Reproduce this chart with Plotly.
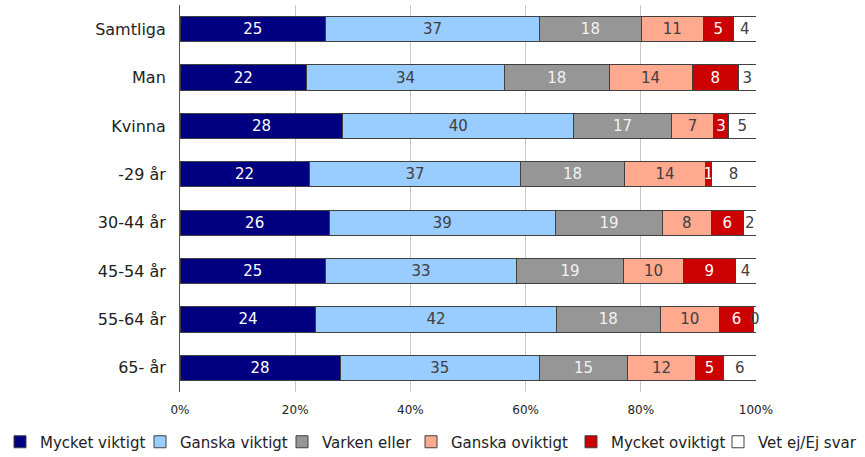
import plotly.graph_objects as go

categories = ["Samtliga", "Man", "Kvinna", "-29 år", "30-44 år", "45-54 år", "55-64 år", "65- år"]

series_names = ["Mycket viktigt", "Ganska viktigt", "Varken eller",
                "Ganska oviktigt", "Mycket oviktigt", "Vet ej/Ej svar"]

mycket_viktigt  = [25.3, 22.0, 28.3, 22.4, 25.9, 25.3, 23.6, 27.8]
ganska_viktigt  = [37.1, 34.3, 40.1, 36.8, 39.2, 33.1, 41.7, 34.6]
varken_eller    = [17.7, 18.2, 17.0, 17.9, 18.6, 18.6, 18.1, 15.3]
ganska_oviktigt = [10.7, 14.4, 7.3, 14.2, 8.4, 10.4, 10.2, 11.8]
mycket_oviktigt = [5.3, 8.1, 2.6, 0.9, 5.6, 9.0, 6.0, 4.9]
vet_ej          = [3.9, 3.0, 4.8, 7.8, 2.2, 3.6, 0.4, 5.6]

x_tick_vals = [0, 20, 40, 60, 80, 100]
x_tick_text = ["0%", "20%", "40%", "60%", "80%", "100%"]

series_values = [mycket_viktigt, ganska_viktigt, varken_eller,
                 ganska_oviktigt, mycket_oviktigt, vet_ej]
colors = ["#000080", "#99CCFF", "#969696", "#FFA98F", "#CC0000", "#FFFFFF"]
text_colors = ["#FFFFFF", "#404040", "#F2F2F2", "#404040", "#FFFFFF", "#404040"]

# legend entry left positions (pixels in the 865px wide figure)
legend_left_px = [0, 140, 282, 411, 571, 718]
legend_ids = ["legend", "legend2", "legend3", "legend4", "legend5", "legend6"]

W, H = 865, 457

fig = go.Figure()
for name, vals, col, tcol, lid in zip(series_names, series_values, colors, text_colors, legend_ids):
    fig.add_trace(go.Bar(
        y=categories, x=vals, name=name, orientation="h",
        marker=dict(color=col, line=dict(color="#404040", width=1)),
        text=[f"{round(v):d}" for v in vals],
        textposition="inside", insidetextanchor="middle",
        textfont=dict(color=tcol, size=15, family="DejaVu Sans"),
        constraintext="none",
        cliponaxis=False,
        legend=lid,
        hoverinfo="x+y+name",
    ))

legend_common = dict(orientation="h", xref="container", yref="container",
                     xanchor="left", y=1 - 442 / H, yanchor="middle",
                     font=dict(size=15, color="#222222"),
                     bgcolor="rgba(0,0,0,0)", itemclick=False)
legend_layout = {lid: dict(legend_common, x=px / W) for lid, px in zip(legend_ids, legend_left_px)}

fig.update_layout(
    barmode="stack",
    barnorm="percent",
    bargap=0.48,
    width=W, height=H,
    margin=dict(l=180, r=109, t=5, b=65, autoexpand=False),
    paper_bgcolor="white", plot_bgcolor="white",
    font=dict(family="DejaVu Sans", color="#222222"),
    uniformtext=dict(mode="show", minsize=15),
    showlegend=True,
    xaxis=dict(range=[0, 100], tickvals=x_tick_vals, ticktext=x_tick_text,
               showgrid=True, gridcolor="#C8C8C8", gridwidth=1,
               zeroline=False, showline=False, automargin=False,
               ticklabelstandoff=9,
               tickfont=dict(size=12, color="#222222")),
    yaxis=dict(autorange="reversed", showgrid=False, showline=True,
               linecolor="#555555", linewidth=1, ticks="",
               ticklabelstandoff=10, automargin=False,
               tickfont=dict(size=16, color="#222222")),
    **legend_layout,
)

fig.write_html("out.html", config={"displayModeBar": False},
               post_script="document.body.style.margin='0';")
